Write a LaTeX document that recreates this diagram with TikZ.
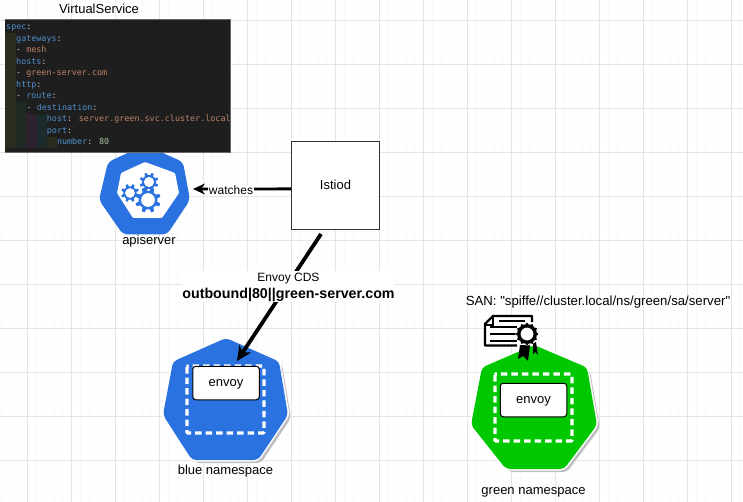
\documentclass[tikz,border=0pt]{standalone}
\usepackage{fontspec}
\setmainfont{Liberation Sans}
\newfontfamily\plainfont{Liberation Sans}
\newfontfamily\codefont{DejaVu Sans Mono}
\usetikzlibrary{arrows.meta}

\definecolor{kubeblue}{HTML}{2A72E0}
\definecolor{meshgreen}{HTML}{00C800}
\definecolor{codebg}{HTML}{1E1E1E}
\definecolor{codekey}{HTML}{4F8FCB}
\definecolor{codeval}{HTML}{BE8468}
\definecolor{codenum}{HTML}{A9C29C}
\definecolor{codedash}{HTML}{C8C8C8}
\definecolor{bandolive}{HTML}{2B2B1E}
\definecolor{bandgreen}{HTML}{1F2B22}
\definecolor{bandpurple}{HTML}{2E2230}
\definecolor{bandteal}{HTML}{1D2A2C}

\newcommand{\ck}[1]{\textcolor{codekey}{#1}}
\newcommand{\cv}[1]{\textcolor{codeval}{#1}}
\newcommand{\cn}[1]{\textcolor{codenum}{#1}}
\newcommand{\blueoutline}{(226,338)--(279,361.5)--(288,415)--(258,460)--(192,460)--(163,415)--(173,361.5)--cycle}
\newcommand{\greenoutline}{(534,345)--(587,367.5)--(597,425)--(564,469)--(506,469)--(471,425)--(482,367.5)--cycle}

\tikzset{
	txt/.style={font=\fontsize{13}{15}\selectfont,inner sep=0pt},
	codeline/.style={font=\codefont\fontsize{8.4}{10}\selectfont,anchor=base west,inner sep=0pt,text=codedash},
	nsshadow/.style={fill=black!25,rounded corners=4pt},
	nshalo/.style={draw=white,fill=white,line width=3pt,rounded corners=4pt},
	podbox/.style={draw=white,line width=3.4pt,dash pattern=on 6.5pt off 4pt,rounded corners=1pt},
	envoybox/.style={draw=black,line width=1pt,fill=white,rounded corners=3pt,minimum width=66.5pt,minimum height=33.5pt,text depth=0pt,txt},
	bigarrow/.style={black,line width=3.8pt,-{Stealth[length=15pt,width=14pt]}},
	cogpic/.pic={
		\fill[kubeblue] (0,0) circle (0.74);
		\foreach \a in {0,45,...,315}
			\fill[kubeblue,rotate=\a+22] (-0.18,0.6) -- (-0.12,1) -- (0.12,1) -- (0.18,0.6) -- cycle;
		\fill[white] (0,0) circle (0.54);
	}
}

\begin{document}
\begin{tikzpicture}[x=1pt,y=-1pt]
	\useasboundingbox (0,0) rectangle (743,502);
	
	% grid
	\foreach \x in {1.1,9.9,...,743}
		\draw[black!2,line width=0.6pt] (\x,0) -- (\x,502);
	\foreach \y in {2.7,11.5,...,502}
		\draw[black!2,line width=0.6pt] (0,\y) -- (743,\y);
	\foreach \x in {27.5,71.5,...,743}
		\draw[black!10,line width=0.8pt] (\x,0) -- (\x,502);
	\foreach \y in {20.3,64.3,...,502}
		\draw[black!10,line width=0.8pt] (0,\y) -- (743,\y);
	
	% apiserver
	\fill[kubeblue,rounded corners=5pt] (145,145)--(183,162)--(190,200)--(167,234.5)--(123,234.5)--(99,200)--(108,162)--cycle;
	\fill[white,rounded corners=1pt] (145,162)--(175,173)--(179,193)--(162,218)--(133,218)--(117,193)--(121,173)--cycle;
	\pic[scale=12.7] at (148,200) {cogpic};
	\pic[scale=9] at (130,193) {cogpic};
	\pic[scale=9.4] at (149,182) {cogpic};
	\node[txt] (apilabel) at (149,241) {apiserver};
	
	% VirtualService
	\node[txt] (vslabel) at (99,8.8) {VirtualService};
	\fill[codebg] (5,19) rectangle (230,152);
	\draw[black!60,line width=0.6pt] (5,19) -- (230,19) -- (230,152) -- (5,152);
	\fill[bandolive] (5,33) rectangle (16,148);
	\fill[bandgreen] (16,102) rectangle (26,148);
	\fill[bandpurple] (26,114) rectangle (37,148);
	\fill[bandteal] (37,114) rectangle (47,148);
	\fill[bandolive] (47,137) rectangle (57,148);
	\node[codeline] (code1) at (6,30) {\ck{spec}:};
	\node[codeline] (code2) at (16,41.5) {\ck{gateways}:};
	\node[codeline] (code3) at (16,53) {- \cv{mesh}};
	\node[codeline] (code4) at (16,64.5) {\ck{hosts}:};
	\node[codeline] (code5) at (16,76) {- \cv{green-server.com}};
	\node[codeline] (code6) at (16,87.5) {\ck{http}:};
	\node[codeline] (code7) at (16,99) {- \ck{route}:};
	\node[codeline] (code8) at (26.5,110.5) {- \ck{destination}:};
	\node[codeline] (code9) at (46.7,122) {\ck{host}: \cv{server.green.svc.cluster.local}};
	\node[codeline] (code10) at (46.7,133.5) {\ck{port}:};
	\node[codeline] (code11) at (56.8,145) {\ck{number}: \cn{80}};
	
	% Istiod
	\node[draw=black!80,line width=0.8pt,fill=white,minimum width=88pt,minimum height=88pt,txt] (istiod) at (335.5,185) {Istiod};
	\coordinate (apiend) at (193,189);
	\draw[black,line width=2.8pt,-{Stealth[length=12pt,width=11pt]}] (istiod.185) -- (apiend);
	\node[fill=white,font=\fontsize{12}{14}\selectfont,inner sep=1pt] (watches) at (231,190.5) {watches};
	
	% blue namespace
	\fill[nsshadow,shift={(3,3)}] \blueoutline;
	\draw[nshalo] \blueoutline;
	\fill[kubeblue,rounded corners=4pt] \blueoutline;
	\draw[podbox] (187,366) rectangle (264,433);
	\node[envoybox] (blueenvoy) at (226,383) {envoy};
	\node[txt] (bluelabel) at (225.5,471.5) {blue namespace};
	
	% green namespace
	\fill[nsshadow,shift={(3,3)}] \greenoutline;
	\draw[nshalo] \greenoutline;
	\fill[meshgreen,rounded corners=4pt] \greenoutline;
	\draw[podbox] (495,374) rectangle (572,441);
	\node[envoybox] (greenenvoy) at (533.5,400) {envoy};
	\node[txt] (greenlabel) at (533.5,492.5) {green namespace};
	\node[inner sep=0pt,font=\plainfont\fontsize{13.2}{15}\selectfont] (sanlabel) at (598,302) {SAN: "spiffe//cluster.local/ns/green/sa/server"};
	
	% certificate
	\fill[black] (520,345) -- (518,359) -- (523,356) -- (528,361) -- (530,345) -- cycle;
	\fill[black] (533,343) -- (533,354) -- (535.5,352) -- (538,355) -- (536,342) -- cycle;
	\draw[black,fill=white,line width=2.4pt,line join=round] (532,322) -- (532,316) -- (493,316) -- (485,324) -- (485,345.5) -- (517,345.5);
	\draw[black,line width=1.6pt] (485,325) -- (493,325) -- (493,317);
	\draw[black,line width=2pt] (499,321) -- (525,321);
	\foreach \y in {327,333.5,340.5}
		\draw[black,line width=2pt] (490,\y) -- (517,\y);
	\fill[white] (527,334) circle (11.5);
	\foreach \a in {0,30,...,330}
		\fill[black,rotate around={\a:(527,334)}] (527,324) circle (1.4);
	\fill[black] (527,334) circle (10);
	\fill[white] (527,334) circle (6.4);
	
	% Envoy CDS
	\coordinate (cdsstart) at (321,234);
	\coordinate (cdsend) at (237,361);
	\draw[bigarrow] (cdsstart) -- (cdsend);
	\node[fill=white,inner sep=0pt,minimum width=213pt,minimum height=31pt] (cdsbox) at (288.5,286.5) {};
	\node[font=\fontsize{12}{14}\selectfont,inner sep=0pt] (cdslabel) at (288.5,279) {Envoy CDS};
	\node[font=\bfseries\fontsize{14.25}{16}\selectfont,inner sep=0pt] (cdsroute) at (288.5,294.5) {outbound|80||green-server.com};
\end{tikzpicture}
\end{document}
